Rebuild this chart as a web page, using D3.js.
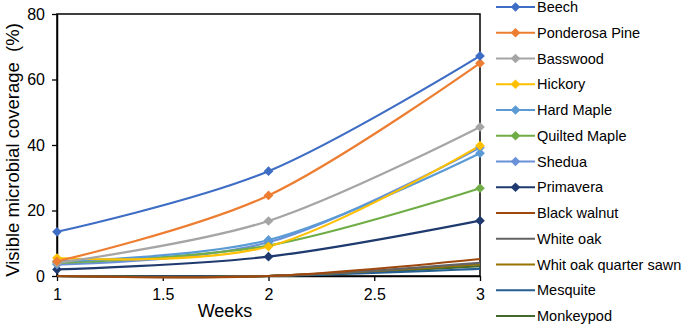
<!DOCTYPE html>
<html><head><meta charset="utf-8">
<script src="https://cdn.jsdelivr.net/npm/d3@7"></script>
<style>body{margin:0;background:#fff;font-family:Arial,"Liberation Sans",sans-serif}</style>
</head><body><svg id="c" width="685" height="324"></svg>
<script>
const weeks = [1, 2, 3];
const seriesNames = ["Beech","Ponderosa Pine","Basswood","Hickory","Hard Maple","Quilted Maple","Shedua","Primavera","Black walnut","White oak","Whit oak quarter sawn","Mesquite","Monkeypod"];
const beech = [13.5, 32, 67.2];
const ponderosaPine = [4.5, 24.6, 65];
const basswood = [4, 16.8, 45.5];
const hickory = [5.5, 9, 39.8];
const hardMaple = [4.5, 11, 37.5];
const quiltedMaple = [4, 9.3, 26.8];
const shedua = [3.5, 10.3, 39.2];
const primavera = [2, 5.9, 16.9];
const blackWalnut = [0, 0, 5.2];
const whiteOak = [0, 0, 4];
const whiteOakQS = [0, 0, 3.6];
const mesquite = [0, 0, 2.2];
const monkeypod = [0, 0, 3];
const seriesValues = [beech, ponderosaPine, basswood, hickory, hardMaple, quiltedMaple, shedua, primavera, blackWalnut, whiteOak, whiteOakQS, mesquite, monkeypod];
const colors = ["#3E6DC5","#ED7D31","#A5A5A5","#FFC000","#5B9BD5","#70AD47","#6A91D8","#1F3A6E","#9E480E","#636363","#997300","#255E91","#43682B"];
const hasMarker = [true,true,true,true,true,true,true,true,false,false,false,false,false];
const xTicks = [1, 1.5, 2, 2.5, 3];
const yTicks = [0, 20, 40, 60, 80];

const svg = d3.select("#c");
const L = 57, R = 480, T = 14, B = 276;
const x = d3.scaleLinear().domain([1, 3]).range([L, R]);
const y = d3.scaleLinear().domain([0, 80]).range([B, T]);

svg.append("rect").attr("x", L).attr("y", T).attr("width", R - L).attr("height", B - T)
  .attr("fill", "none").attr("stroke", "#000").attr("stroke-width", 1.5);

const xAxis = svg.append("g").attr("transform", `translate(0,${B})`)
  .call(d3.axisBottom(x).tickValues(xTicks).tickFormat(d3.format("")).tickSize(5).tickSizeOuter(0));
const yAxis = svg.append("g").attr("transform", `translate(${L},0)`)
  .call(d3.axisLeft(y).tickValues(yTicks).tickSize(5).tickSizeOuter(0));
[xAxis, yAxis].forEach(g => {
  g.select(".domain").attr("stroke", "#000").attr("stroke-width", 1.5);
  g.selectAll(".tick line").attr("stroke", "#000").attr("stroke-width", 1.3);
  g.selectAll("text").attr("font-family", "Arial, 'Liberation Sans', sans-serif").attr("font-size", 16).attr("fill", "#000");
});
xAxis.selectAll("text").attr("y", 10).attr("dy", "0.85em");
yAxis.selectAll("text").attr("x", -12);

svg.append("text").attr("x", 225).attr("y", 317).attr("text-anchor", "middle")
  .attr("font-size", 18).attr("fill", "#000").text("Weeks");
svg.append("text").attr("transform", `translate(19,150) rotate(-90)`).attr("text-anchor", "middle")
  .style("white-space", "pre")
  .attr("font-size", 18.5).attr("fill", "#000").text("Visible microbial coverage  (%)");

const line = d3.line().x((d, i) => x(weeks[i])).y(d => y(d)).curve(d3.curveCardinal.tension(0));
const diamond = d3.symbol().type(d3.symbolDiamond2).size(60);

const order = d3.range(seriesNames.length).reverse();
order.forEach(k => {
  svg.append("path").datum(seriesValues[k]).attr("d", line).attr("fill", "none")
    .attr("stroke", colors[k]).attr("stroke-width", 2.2);
});
order.forEach(k => {
  if (!hasMarker[k]) return;
  svg.selectAll(null).data(seriesValues[k]).enter().append("path")
    .attr("d", diamond).attr("transform", (d, i) => `translate(${x(weeks[i])},${y(d)})`)
    .attr("fill", colors[k]);
});

const lg = svg.append("g");
seriesNames.forEach((n, k) => {
  const yy = 7 + k * 25.75;
  lg.append("line").attr("x1", 496).attr("x2", 535).attr("y1", yy).attr("y2", yy)
    .attr("stroke", colors[k]).attr("stroke-width", 2.2);
  if (hasMarker[k]) lg.append("path").attr("d", diamond).attr("transform", `translate(515.5,${yy})`).attr("fill", colors[k]);
  lg.append("text").attr("x", 537).attr("y", yy).attr("dy", "0.36em").attr("font-size", 14.5).attr("fill", "#000").text(n);
});
</script></body></html>
